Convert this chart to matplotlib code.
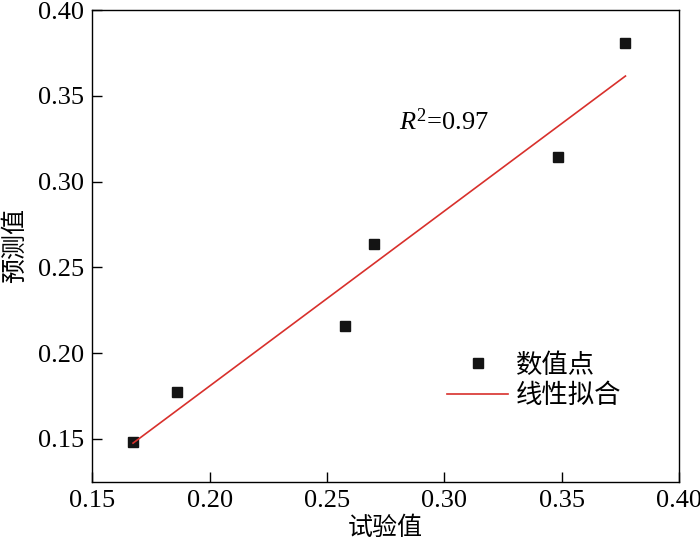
import matplotlib
matplotlib.use('Agg')
import matplotlib.pyplot as plt

test_vals = [0.1674, 0.1861, 0.2575, 0.2699, 0.3482, 0.3771]
pred_vals = [0.1484, 0.1774, 0.2156, 0.2633, 0.3145, 0.3810]

# end points of the fitted line
fit_x = [0.1674, 0.3771]
fit_y = [0.1475, 0.3615]

xticks = [0.15, 0.20, 0.25, 0.30, 0.35, 0.40]
yticks = [0.15, 0.20, 0.25, 0.30, 0.35, 0.40]

plt.rcParams['font.family'] = ['Liberation Serif', 'Noto Sans CJK SC']
plt.rcParams['mathtext.fontset'] = 'custom'
plt.rcParams['mathtext.it'] = 'Liberation Serif:italic'
plt.rcParams['mathtext.rm'] = 'Liberation Serif'

fig = plt.figure(figsize=(7, 5.44), dpi=100)
ax = fig.add_axes([0.1317, 0.1145, 0.8386, 0.8671])

ax.plot(test_vals, pred_vals, 's', color='#141414', markersize=7,
        linestyle='none', label='数值点')
ax.plot(fit_x, fit_y, '-', color='#d8302c', linewidth=1.2, label='线性拟合')

ax.set_xlim(0.15, 0.40)
ax.set_ylim(0.125, 0.40)
ax.set_xticks(xticks)
ax.set_yticks(yticks)
ax.set_xticklabels([f'{t:.2f}' for t in xticks])
ax.set_yticklabels([f'{t:.2f}' for t in yticks])
ax.tick_params(direction='in', length=7, width=1, labelsize=19, pad=6)
for s in ax.spines.values():
    s.set_linewidth(1.0)

ax.set_xlabel('试验值', fontsize=18, labelpad=3)
ax.set_ylabel('预测值', fontsize=18, labelpad=8)

ax.text(0.2806, 0.3348, r'$R^2$=0.97', fontsize=19, va='center', ha='left')

ax.legend(loc='upper left', bbox_to_anchor=(0.605, 0.273), frameon=False,
          fontsize=19, handlelength=2.3, handletextpad=0.3, labelspacing=0.22,
          borderpad=0, borderaxespad=0)

fig.savefig('out.png', dpi=100)
